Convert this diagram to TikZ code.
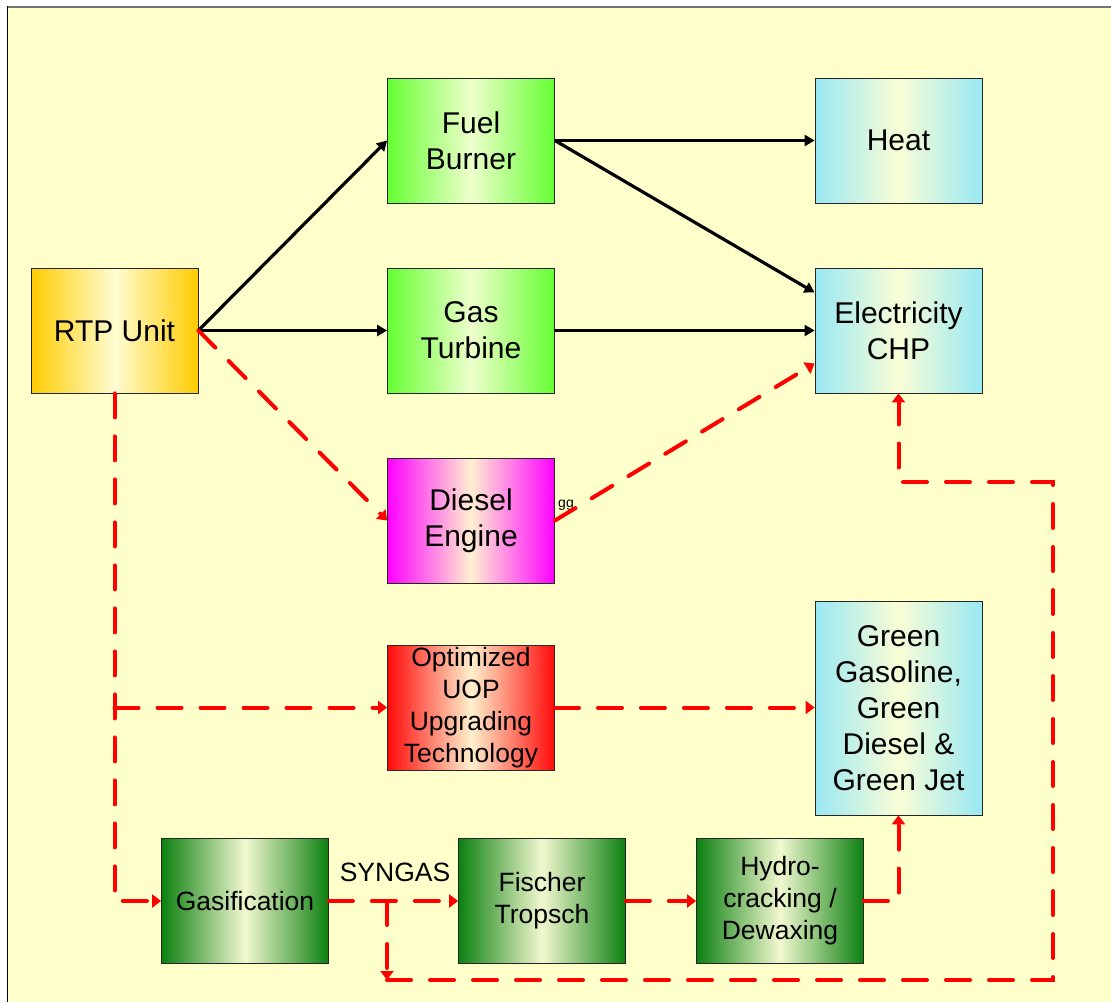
\documentclass[tikz,border=0pt]{standalone}
\usepackage{fontspec}
\setmainfont{Liberation Sans}
\usetikzlibrary{arrows.meta,calc}
\definecolor{bgy}{HTML}{FFFFCC}
\definecolor{yedge}{HTML}{FFCC00}
\definecolor{ymid}{HTML}{FFFCD2}
\definecolor{gedge}{HTML}{66FF33}
\definecolor{gmid}{HTML}{EEFFCC}
\definecolor{cedge}{HTML}{99E8F4}
\definecolor{cmid}{HTML}{FAFDD6}
\definecolor{medge}{HTML}{FF00FF}
\definecolor{mmid}{HTML}{FFF0D0}
\definecolor{redge}{HTML}{FF0A0A}
\definecolor{rmid}{HTML}{FFF0CC}
\definecolor{dedge}{HTML}{0C8010}
\definecolor{dmid}{HTML}{F2F8D0}
\definecolor{lred}{HTML}{FF0000}
\begin{document}
\begin{tikzpicture}[x=1pt,y=-1pt,
  box/.style={draw=black!85, line width=0.8pt, minimum width=167pt, minimum height=125pt,
    inner sep=0pt, align=center, font=\fontsize{30}{36}\selectfont},
  smallbox/.style={box, font=\fontsize{26.5}{32}\selectfont},
  yelfill/.style={left color=yedge, right color=yedge, middle color=ymid},
  grnfill/.style={left color=gedge, right color=gedge, middle color=gmid},
  cyanfill/.style={left color=cedge, right color=cedge, middle color=cmid},
  magfill/.style={left color=medge, right color=medge, middle color=mmid},
  redfill/.style={left color=redge, right color=redge, middle color=rmid},
  dgrnfill/.style={left color=dedge, right color=dedge, middle color=dmid},
  blk/.style={black, line width=3.2pt, -{Triangle[length=10pt,width=11pt]}},
  rdash/.style={lred, line width=4pt, line cap=round, dash pattern=on 24pt off 19pt},
  rarrow/.style={rdash, -{Triangle[length=9pt,width=13pt]}}
]
\useasboundingbox (0,0) rectangle (1111,1002);
\fill[white] (0,0) rectangle (1111,1002);
\fill[bgy] (7,6) rectangle (1111,1002);
\draw[black!55, line width=2pt] (7,6.5) -- (1111,6.5);
\draw[black, line width=1.5pt] (7.5,6) -- (7.5,1002);

% nodes
\node[box, yelfill] (rtp) at (114.5,330.5) {RTP Unit};
\node[box, grnfill] (fuel) at (471,140.5) {Fuel\\Burner};
\node[box, grnfill] (gas) at (471,330.5) {Gas\\Turbine};
\node[box, cyanfill] (heat) at (898.5,140.5) {Heat};
\node[box, cyanfill] (chp) at (898.5,330.5) {Electricity\\CHP};
\node[box, magfill] (diesel) at (471,520.5) {Diesel\\Engine};
\node[smallbox, redfill] (uop) at (471,707.5) {Optimized\\UOP\\Upgrading\\Technology};
\node[box, cyanfill, minimum height=214pt] (green) at (898.5,708) {Green\\Gasoline,\\Green\\Diesel \&\\Green Jet};
\node[smallbox, dgrnfill] (gasif) at (245,901) {Gasification};
\node[smallbox, dgrnfill] (ft) at (542,901) {Fischer\\Tropsch};
\node[smallbox, dgrnfill] (hydro) at (780,901) {Hydro-\\cracking /\\Dewaxing};

\node[font=\fontsize{26.5}{32}\selectfont, inner sep=0pt] (syngas) at (395,872) {SYNGAS};
\node[font=\fontsize{14}{16}\selectfont, inner sep=0pt] (gg) at (566,505) {gg};

% black connectors
\draw[blk] (rtp.east) -- (fuel.west);
\draw[blk] (rtp.east) -- (gas.west);
\draw[blk] (fuel.east) -- (heat.west);
\draw[blk] (fuel.east) -- ([yshift=38pt]chp.west);
\draw[blk] (gas.east) -- (chp.west);

% red dashed connectors
\draw[rarrow] (rtp.east) -- (diesel.west);
\draw[rarrow] (diesel.east) -- ([yshift=-33pt]chp.west);
\draw[rarrow] (rtp.south) |- (gasif.west);
\coordinate (br) at (rtp.south |- uop.west);
\draw[rarrow] (br) -- (uop.west);
\draw[rarrow] (uop.east) -- (uop.east -| green.west);
\draw[rarrow] (gasif.east) -- (ft.west);
\draw[rarrow] (ft.east) -- (hydro.west);
\draw[rarrow] (hydro.east) -| (green.south);

\coordinate (syn) at (387,901);
\coordinate (c1) at (387,980);
\coordinate (c2) at (1053,980);
\coordinate (c3) at (1053,482);
\draw[rarrow] (syn) -- (c1);
\draw[rarrow] (c1) -- (c2) -- (c3) -| (chp.south);
\end{tikzpicture}
\end{document}
